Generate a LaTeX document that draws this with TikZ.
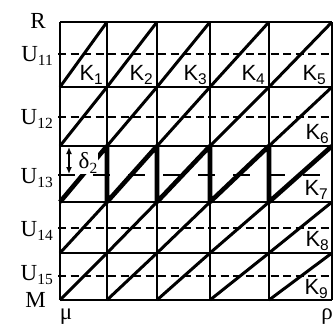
\documentclass[tikz,border=0pt]{standalone}
\usepackage{fontspec}
\setmainfont{Liberation Serif}
\setsansfont{Liberation Sans}
\usetikzlibrary{arrows.meta}
\newcommand{\sub}[1]{\raisebox{-4.5pt}{\fontsize{15.5}{15.5}\selectfont #1}}

\begin{document}
\begin{tikzpicture}[x=1pt,y=-1pt,
  grid/.style={line width=1.6pt},
  diag/.style={line width=3pt},
  saw/.style={line width=4.6pt,line join=bevel},
  mid/.style={line width=1.5pt,dash pattern=on 8pt off 4.5pt},
  midwide/.style={line width=1.5pt,dash pattern=on 17pt off 18pt},
  lbl/.style={font=\fontsize{23}{25}\selectfont,inner sep=0pt,anchor=base east},
  klbl/.style={font=\sffamily\fontsize{22}{24}\selectfont,inner sep=0pt,anchor=base east}]
\useasboundingbox (0,0) rectangle (333,327);
% grid points
\foreach \x [count=\i from 0] in {60,107,157,210,269,332}
  \foreach \y [count=\j from 0] in {22,87,146,202,253,300}
    \coordinate (p\i\j) at (\x,\y);
\foreach \y [count=\j] in {54,117,175,228,276}
  \coordinate (m\j) at (58,\y);
% dashed middle lines
\foreach \j in {1,2,4,5}
  \draw[mid] (m\j) -- (m\j -| p50);
\draw[midwide] (m3) -- (m3 -| p50);
% grid
\foreach \j in {0,...,5}
  \draw[grid] (p0\j) -- (p5\j);
\foreach \i in {0,...,5}
  \draw[grid] (p\i0) -- (p\i5);
% diagonals
\foreach \i/\k in {0/1,1/2,2/3,3/4,4/5}
  \foreach \j/\h in {1/0,2/1,4/3,5/4}
    \draw[diag] (p\i\j) -- (p\k\h);
% sawtooth
\draw[saw] (p03) -- (p12) -- (p13) -- (p22) -- (p23) -- (p32)
  -- (p33) -- (p42) -- (p43) -- (p52);
% delta
\coordinate (a1) at (69,147);
\coordinate (a2) at (69,174);
\draw[{Latex[length=7pt,width=6pt]}-{Latex[length=7pt,width=6pt]},line width=1.3pt] (a1) -- (a2);
\node[font=\fontsize{23}{25}\selectfont,fill=white,inner sep=1pt] (d2) at (88,163) {δ\sub{2}};
% labels
\path
(46,28) node[lbl] (R) {R}
(53,61) node[lbl] (U11) {U\sub{11}}
(53,124) node[lbl] (U12) {U\sub{12}}
(53,183) node[lbl] (U13) {U\sub{13}}
(53,236) node[lbl] (U14) {U\sub{14}}
(53,280) node[lbl] (U15) {U\sub{15}}
(46,307) node[lbl] (M) {M}
(66,319) node[lbl,anchor=base] (mu) {μ}
(327,319) node[lbl,anchor=base] (rho) {ρ};
\path
(103,80) node[klbl] (K1) {K\sub{1}}
(153,80) node[klbl] (K2) {K\sub{2}}
(207,80) node[klbl] (K3) {K\sub{3}}
(265,80) node[klbl] (K4) {K\sub{4}}
(326,80) node[klbl] (K5) {K\sub{5}}
(329,139) node[klbl] (K6) {K\sub{6}}
(328,195) node[klbl] (K7) {K\sub{7}}
(329,246) node[klbl] (K8) {K\sub{8}}
(328,294) node[klbl] (K9) {K\sub{9}};
\end{tikzpicture}
\end{document}
